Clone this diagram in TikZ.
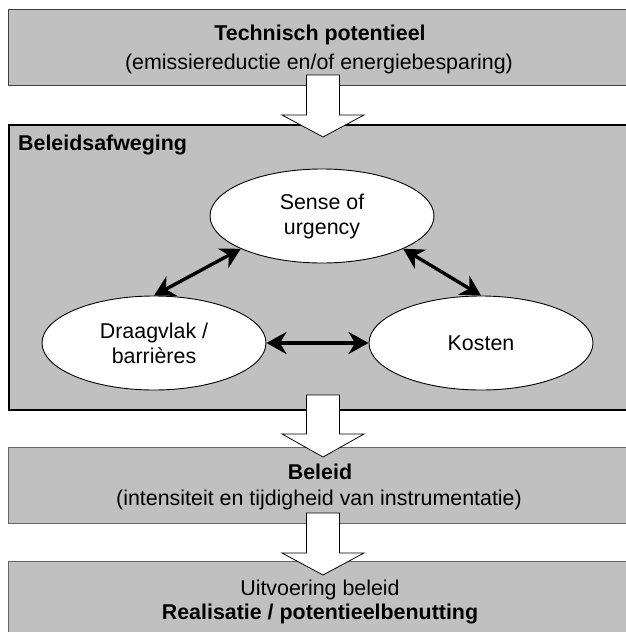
\documentclass[tikz,border=0pt]{standalone}
\usepackage{fontspec}
\setmainfont{Liberation Sans}
\usetikzlibrary{arrows.meta,shapes.geometric}
\definecolor{panelgray}{HTML}{C0C0C0}
\newcommand\tfont{\fontsize{21.4}{25}\selectfont}
\begin{document}
\begin{tikzpicture}[x=1pt,y=-1pt,
  txt/.style={font=\tfont, inner sep=0pt, anchor=base},
  btxt/.style={txt, font=\tfont\bfseries},
  panel/.style={draw=black!75, line width=1.2pt, fill=panelgray, anchor=north west, minimum width=640pt, inner sep=0pt},
  lightpanel/.style={panel, draw=black!60},
  frame/.style={panel, draw=black, line width=2.4pt},
  oval/.style={ellipse, draw=black, fill=white, line width=0.9pt, minimum width=224pt, minimum height=94pt, inner sep=0pt, align=center, font=\tfont},
  dblarrow/.style={{Stealth[length=20pt,width=22pt]}-{Stealth[length=20pt,width=22pt]}, line width=3.4pt},
  barrow/.style={draw=black, fill=white, line width=0.8pt, line join=miter}
]
\clip (0,0) rectangle (626,632);
\fill[white] (0,0) rectangle (626,632);

% panels
\node[panel, minimum height=76pt] (tp) at (8,9) {};
\node[frame, minimum height=285pt] (ba) at (8,124) {};
\node[lightpanel, minimum height=76pt] (bl) at (8,447) {};
\node[lightpanel, minimum height=90pt] (ui) at (8,561) {};

% panel texts
\node[btxt] (tpa) at (320,40) {Technisch potentieel};
\node[txt] (tpb) at (319,69) {(emissiereductie en/of energiebesparing)};
\node[btxt, anchor=base west] (bal) at (18,150) {Beleidsafweging};
\node[btxt] (bla) at (320,479) {Beleid};
\node[txt] (blb) at (319,505) {(intensiteit en tijdigheid van instrumentatie)};
\node[txt] (uia) at (320,595) {Uitvoering beleid};
\node[btxt] (uib) at (320,619) {Realisatie / potentieelbenutting};

% ellipses
\node[oval] (sense) at (322,216) {Sense of\\urgency};
\node[oval] (draag) at (154,343) {Draagvlak /\\barrières};
\node[oval] (kost) at (481,343) {Kosten};

% double arrows
\draw[dblarrow] (draag.north) -- (sense.202.7);
\draw[dblarrow] (sense.-22.4) -- (kost.north);
\draw[dblarrow] (draag.east) -- (kost.west);

% block arrows between panels
\newcommand\blockarr[3]{%
  \draw[barrow] (306.5,#1) -- (339.5,#1) -- (339.5,#2) -- (364,#2) -- (323,#3) -- (282,#2) -- (306.5,#2) -- cycle;}
\blockarr{75}{115}{137}
\blockarr{395}{434}{457}
\blockarr{513}{553}{575}
\end{tikzpicture}
\end{document}
